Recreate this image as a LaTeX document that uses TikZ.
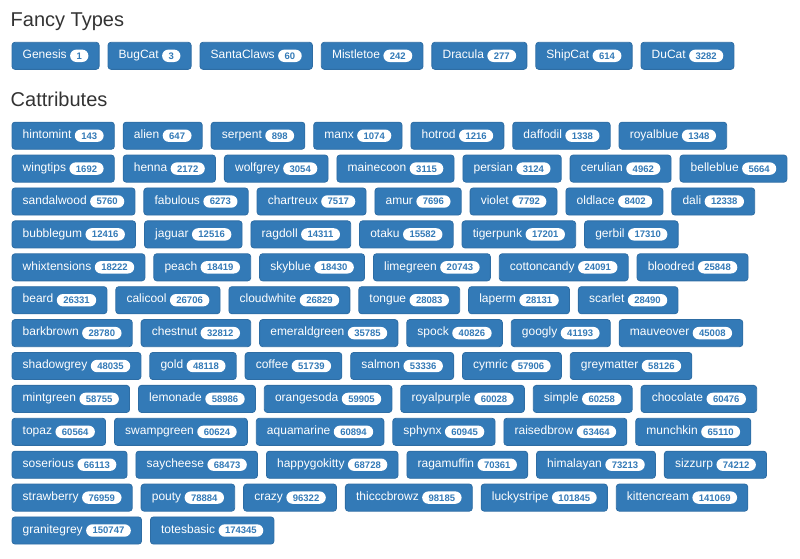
\documentclass[tikz,border=0pt]{standalone}
\usepackage{fontspec}
\setmainfont{Liberation Sans}
\usetikzlibrary{positioning,fit,backgrounds}
\definecolor{btnblue}{HTML}{337AB7}
\definecolor{btnborder}{HTML}{2E6DA4}
\definecolor{headgray}{HTML}{333333}
\tikzset{
  btnlbl/.style={inner sep=0pt, text=white, font=\fontsize{12}{14}\selectfont, text height=8pt, text depth=2.6pt},
  btnbadge/.style={fill=white, text=btnblue, font=\fontsize{9.5}{10}\selectfont\bfseries, inner xsep=6.5pt, inner ysep=0pt, text height=6.8pt, text depth=0pt, minimum height=12.4pt, rounded corners=6.2pt},
  btnbox/.style={fill=btnblue, draw=btnborder, line width=0.8pt, rounded corners=3pt, inner xsep=10.5pt, inner ysep=8.05pt},
  heading/.style={inner sep=0pt, anchor=base west, text=headgray, font=\fontsize{20}{24}\selectfont},
}
\newcommand\cbtn[4]{%
  \node[btnlbl, #2] (#1-l) {#3};
  \node[btnbadge, right=3pt of #1-l] (#1-b) {#4};
  \coordinate (#1-e) at (#1-b.east |- #1-l.center);
  \begin{scope}[on background layer]
    \node[btnbox, fit=(#1-l)(#1-e)] (#1) {};
  \end{scope}
}
\newcommand\firstbtn[5]{\cbtn{#1}{anchor=west, at={(22.5,#2)}}{#3}{#4}}
\newcommand\nextbtn[4]{\cbtn{#1}{right=19pt of #2}{#3}{#4}}
\begin{document}
\begin{tikzpicture}[x=1pt,y=-1pt]
\useasboundingbox (0,0) rectangle (800,558);
\node[heading] (h1) at (10.5,26.7) {Fancy Types};
\node[heading] (h2) at (10.5,106.7) {Cattributes};
% Fancy types
\firstbtn{genesis}{55.8}{Genesis}{1}{}
\nextbtn{bugcat}{genesis}{BugCat}{3}
\nextbtn{santaclaws}{bugcat}{SantaClaws}{60}
\nextbtn{mistletoe}{santaclaws}{Mistletoe}{242}
\nextbtn{dracula}{mistletoe}{Dracula}{277}
\nextbtn{shipcat}{dracula}{ShipCat}{614}
\nextbtn{ducat}{shipcat}{DuCat}{3282}
% Row 1
\firstbtn{hintomint}{135.7}{hintomint}{143}{}
\nextbtn{alien}{hintomint}{alien}{647}
\nextbtn{serpent}{alien}{serpent}{898}
\nextbtn{manx}{serpent}{manx}{1074}
\nextbtn{hotrod}{manx}{hotrod}{1216}
\nextbtn{daffodil}{hotrod}{daffodil}{1338}
\nextbtn{royalblue}{daffodil}{royalblue}{1348}
% Row 2
\firstbtn{wingtips}{168.6}{wingtips}{1692}{}
\nextbtn{henna}{wingtips}{henna}{2172}
\nextbtn{wolfgrey}{henna}{wolfgrey}{3054}
\nextbtn{mainecoon}{wolfgrey}{mainecoon}{3115}
\nextbtn{persian}{mainecoon}{persian}{3124}
\nextbtn{cerulian}{persian}{cerulian}{4962}
\nextbtn{belleblue}{cerulian}{belleblue}{5664}
% Row 3
\firstbtn{sandalwood}{201.5}{sandalwood}{5760}{}
\nextbtn{fabulous}{sandalwood}{fabulous}{6273}
\nextbtn{chartreux}{fabulous}{chartreux}{7517}
\nextbtn{amur}{chartreux}{amur}{7696}
\nextbtn{violet}{amur}{violet}{7792}
\nextbtn{oldlace}{violet}{oldlace}{8402}
\nextbtn{dali}{oldlace}{dali}{12338}
% Row 4
\firstbtn{bubblegum}{234.4}{bubblegum}{12416}{}
\nextbtn{jaguar}{bubblegum}{jaguar}{12516}
\nextbtn{ragdoll}{jaguar}{ragdoll}{14311}
\nextbtn{otaku}{ragdoll}{otaku}{15582}
\nextbtn{tigerpunk}{otaku}{tigerpunk}{17201}
\nextbtn{gerbil}{tigerpunk}{gerbil}{17310}
% Row 5
\firstbtn{whixtensions}{267.3}{whixtensions}{18222}{}
\nextbtn{peach}{whixtensions}{peach}{18419}
\nextbtn{skyblue}{peach}{skyblue}{18430}
\nextbtn{limegreen}{skyblue}{limegreen}{20743}
\nextbtn{cottoncandy}{limegreen}{cottoncandy}{24091}
\nextbtn{bloodred}{cottoncandy}{bloodred}{25848}
% Row 6
\firstbtn{beard}{300.2}{beard}{26331}{}
\nextbtn{calicool}{beard}{calicool}{26706}
\nextbtn{cloudwhite}{calicool}{cloudwhite}{26829}
\nextbtn{tongue}{cloudwhite}{tongue}{28083}
\nextbtn{laperm}{tongue}{laperm}{28131}
\nextbtn{scarlet}{laperm}{scarlet}{28490}
% Row 7
\firstbtn{barkbrown}{333.1}{barkbrown}{28780}{}
\nextbtn{chestnut}{barkbrown}{chestnut}{32812}
\nextbtn{emeraldgreen}{chestnut}{emeraldgreen}{35785}
\nextbtn{spock}{emeraldgreen}{spock}{40826}
\nextbtn{googly}{spock}{googly}{41193}
\nextbtn{mauveover}{googly}{mauveover}{45008}
% Row 8
\firstbtn{shadowgrey}{366.0}{shadowgrey}{48035}{}
\nextbtn{gold}{shadowgrey}{gold}{48118}
\nextbtn{coffee}{gold}{coffee}{51739}
\nextbtn{salmon}{coffee}{salmon}{53336}
\nextbtn{cymric}{salmon}{cymric}{57906}
\nextbtn{greymatter}{cymric}{greymatter}{58126}
% Row 9
\firstbtn{mintgreen}{398.9}{mintgreen}{58755}{}
\nextbtn{lemonade}{mintgreen}{lemonade}{58986}
\nextbtn{orangesoda}{lemonade}{orangesoda}{59905}
\nextbtn{royalpurple}{orangesoda}{royalpurple}{60028}
\nextbtn{simple}{royalpurple}{simple}{60258}
\nextbtn{chocolate}{simple}{chocolate}{60476}
% Row 10
\firstbtn{topaz}{431.8}{topaz}{60564}{}
\nextbtn{swampgreen}{topaz}{swampgreen}{60624}
\nextbtn{aquamarine}{swampgreen}{aquamarine}{60894}
\nextbtn{sphynx}{aquamarine}{sphynx}{60945}
\nextbtn{raisedbrow}{sphynx}{raisedbrow}{63464}
\nextbtn{munchkin}{raisedbrow}{munchkin}{65110}
% Row 11
\firstbtn{soserious}{464.7}{soserious}{66113}{}
\nextbtn{saycheese}{soserious}{saycheese}{68473}
\nextbtn{happygokitty}{saycheese}{happygokitty}{68728}
\nextbtn{ragamuffin}{happygokitty}{ragamuffin}{70361}
\nextbtn{himalayan}{ragamuffin}{himalayan}{73213}
\nextbtn{sizzurp}{himalayan}{sizzurp}{74212}
% Row 12
\firstbtn{strawberry}{497.6}{strawberry}{76959}{}
\nextbtn{pouty}{strawberry}{pouty}{78884}
\nextbtn{crazy}{pouty}{crazy}{96322}
\nextbtn{thicccbrowz}{crazy}{thicccbrowz}{98185}
\nextbtn{luckystripe}{thicccbrowz}{luckystripe}{101845}
\nextbtn{kittencream}{luckystripe}{kittencream}{141069}
% Row 13
\firstbtn{granitegrey}{530.5}{granitegrey}{150747}{}
\nextbtn{totesbasic}{granitegrey}{totesbasic}{174345}
\end{tikzpicture}
\end{document}
